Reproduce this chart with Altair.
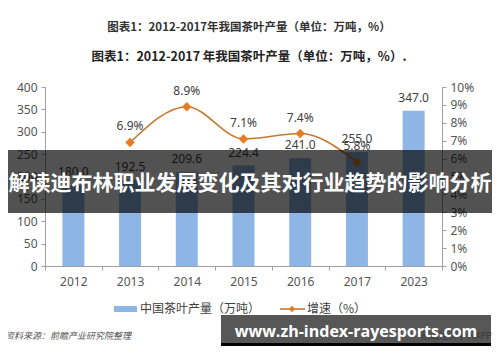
import altair as alt
import pandas as pd

# ---------------- data ----------------
years = ["2012", "2013", "2014", "2015", "2016", "2017", "2023"]
production = [180.0, 192.5, 209.6, 224.4, 241.0, 255.0, 347.0]
growth_pct = [None, 6.9, 8.9, 7.1, 7.4, 5.8, None]

title1 = "图表1：2012-2017年我国茶叶产量（单位：万吨，%）"
title2 = "图表1：2012-2017 年我国茶叶产量（单位：万吨，%）."
legend_bar = "中国茶叶产量（万吨）"
legend_line = "增速（%）"
source_text = "资料来源：前瞻产业研究院整理"
app_text = "前瞻经济学人APP"
banner_text = "解读迪布林职业发展变化及其对行业趋势的影响分析"
url_text = "www.zh-index-rayesports.com"

df = pd.DataFrame({
    "year": years,
    "prod": production,
    "growth": [g / 100 if g is not None else None for g in growth_pct],
})

CJK = "Noto Sans CJK SC"
LAT = "Noto Sans"
BAR = "#8DB6E6"
LINE = "#C8772E"
MARK = "#E57C24"

x_enc = alt.X(
    "year:N", sort=years, title=None,
    scale=alt.Scale(paddingInner=0, paddingOuter=0),
    axis=alt.Axis(tickBand="extent", labelAngle=0, tickSize=4, labelPadding=6,
                  domainColor="#a0a0a0", tickColor="#a0a0a0",
                  labelFont=LAT, labelFontSize=12, labelColor="#555555"),
)

base = alt.Chart(df).encode(x=x_enc)
y1_scale = alt.Scale(domain=[0, 400], nice=False)
y2_scale = alt.Scale(domain=[0, 0.1], nice=False)

bars = base.mark_bar(color=BAR, size=22).encode(
    y=alt.Y("prod:Q", title=None, scale=y1_scale,
            axis=alt.Axis(orient="left", values=list(range(0, 401, 50)), grid=False,
                          tickSize=4, domainColor="#a0a0a0", tickColor="#a0a0a0",
                          labelFont=LAT, labelFontSize=12, labelColor="#555555",
                          labelPadding=4)),
)
bar_text = base.mark_text(baseline="bottom", dy=-6, font=LAT, fontSize=12,
                          color="#404040").encode(
    y=alt.Y("prod:Q", scale=y1_scale, axis=None),
    text=alt.Text("prod:Q", format=".1f"),
)

line = base.mark_line(color=LINE, strokeWidth=1.6, interpolate="monotone").encode(
    y=alt.Y("growth:Q", title=None, scale=y2_scale,
            axis=alt.Axis(orient="right", values=[i / 100 for i in range(0, 11)],
                          format=".0%", grid=False, tickSize=4,
                          domainColor="#a0a0a0", tickColor="#a0a0a0",
                          labelFont=LAT, labelFontSize=12, labelColor="#555555",
                          labelPadding=4)),
)
pts = base.mark_point(shape="diamond", filled=True, size=90, color=MARK,
                      opacity=1).encode(
    y=alt.Y("growth:Q", scale=y2_scale, axis=None),
)
pt_text = base.mark_text(baseline="bottom", dy=-9, font=LAT, fontSize=12,
                         color="#404040").encode(
    y=alt.Y("growth:Q", scale=y2_scale, axis=None),
    text=alt.Text("growth:Q", format=".1%"),
)


def txt(s, x, y, **kw):
    return alt.Chart(pd.DataFrame({"t": [s]})).mark_text(**kw).encode(
        text="t:N", x=alt.value(x), y=alt.value(y))


def box(x1, x2, y1, y2, **kw):
    return alt.Chart(pd.DataFrame({"t": [0]})).mark_rect(**kw).encode(
        x=alt.value(x1), x2=alt.value(x2), y=alt.value(y1), y2=alt.value(y2))


def seg(x1, x2, y, **kw):
    return alt.Chart(pd.DataFrame({"t": [0]})).mark_rule(**kw).encode(
        x=alt.value(x1), x2=alt.value(x2), y=alt.value(y))


overlays = [
    txt(title1, 204, -59, font=CJK, fontSize=11.5, fontWeight="bold", color="#333333"),
    txt(title2, 204, -30, font=CJK, fontSize=12.5, fontWeight="bold", color="#222222"),
    # legend
    box(69, 92, 219, 225, color=BAR),
    txt(legend_bar, 95, 222, align="left", font=CJK, fontSize=12, color="#404040"),
    seg(235, 260, 222, color=LINE, strokeWidth=1.6),
    alt.Chart(pd.DataFrame({"t": [0]})).mark_point(shape="diamond", filled=True,
                                                   size=40, color=MARK, opacity=1)
    .encode(x=alt.value(247), y=alt.value(222)),
    txt(legend_line, 262, 222, align="left", font=CJK, fontSize=12, color="#404040"),
    # source
    txt(source_text, -40, 249, align="left", font=CJK, fontSize=9, fontStyle="italic",
        color="#555555"),
    txt(app_text, 447, 249, align="right", font=CJK, fontSize=9, color="#aaaaaa"),
    # overlay banners
    box(-37, 447, 63, 126, color="#000000", opacity=0.68),
    txt(banner_text, 205, 97, font=CJK, fontSize=21, fontWeight="bold", color="#ffffff"),
    box(176, 446, 228, 258, color="#000000", opacity=0.66),
    box(176, 446, 256, 266, color="#000000", opacity=1),
    txt(url_text, 311, 245, font="Open Sans", fontSize=16, fontWeight="bold",
        color="#ffffff"),
]

chart = alt.layer(bars, bar_text, line, pts, pt_text, *overlays).resolve_scale(
    y="independent"
).properties(
    width=397, height=179,
    autosize=alt.AutoSizeParams(type="none"),
    padding={"left": 37, "top": 79, "right": 50, "bottom": 80},
    background="white",
).configure_view(stroke=None)

chart.save("out.html", embed_options={"renderer": "svg", "actions": False})
